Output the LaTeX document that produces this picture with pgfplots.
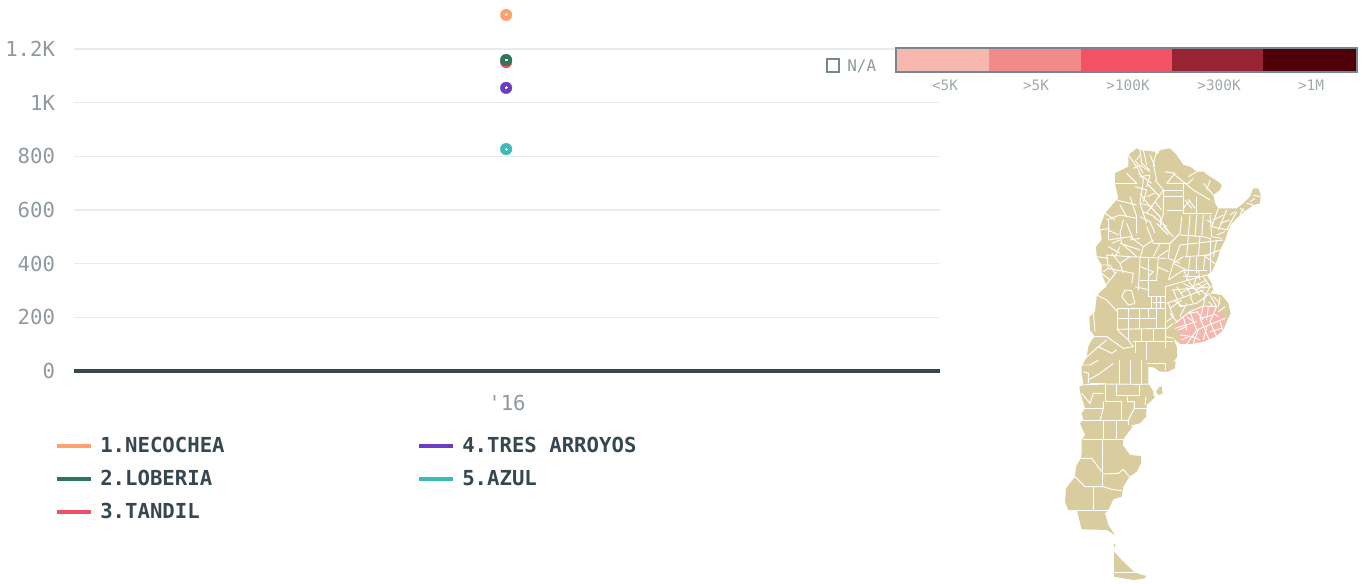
\documentclass[border=0pt]{standalone}
\usepackage{fontspec}
\usepackage{pgfplots}
\pgfplotsset{compat=1.18}
\setmainfont{DejaVu Sans Mono}
\newfontfamily\mono{DejaVu Sans Mono}
\definecolor{tickc}{HTML}{8F999E}
\definecolor{darkc}{HTML}{37474F}
\definecolor{gridc}{HTML}{E9EBEC}
\definecolor{nec}{HTML}{FFA06E}
\definecolor{lob}{HTML}{2E7559}
\definecolor{tan}{HTML}{F04E64}
\definecolor{tre}{HTML}{6C3CC4}
\definecolor{azu}{HTML}{3DBAB8}
\definecolor{land}{HTML}{D9CDA0}
\definecolor{pink}{HTML}{F5B7AE}
\definecolor{b1}{HTML}{F5B7AE}
\definecolor{b2}{HTML}{F28A8A}
\definecolor{b3}{HTML}{F25264}
\definecolor{b4}{HTML}{962433}
\definecolor{b5}{HTML}{4D0008}
\definecolor{barb}{HTML}{78868F}
\newcommand{\tickf}{\fontsize{15.5pt}{18pt}\selectfont}
\newcommand{\legf}{\fontsize{15.5pt}{18pt}\selectfont\bfseries}
\newcommand{\smallf}{\fontsize{10.8pt}{13pt}\selectfont}
\newcommand{\naf}{\fontsize{12pt}{14pt}\selectfont}
\newcommand{\WL}[1]{\addplot[white,line width=0.7pt,line join=round] coordinates {#1};}
\pgfplotsset{dot/.style={only marks,mark=*,mark size=4.4pt,color=#1,mark options={line width=0.2pt,draw=#1,fill=#1}}}
\begin{document}
\begin{tikzpicture}
\path[use as bounding box] (0,0) rectangle (1024.5pt,438pt);
% main chart
\begin{axis}[
  at={(55.5pt,159.75pt)},anchor=south west,
  scale only axis,width=649.5pt,height=278.25pt,
  xmin=-1,xmax=1,ymin=0,ymax=1382.6,
  clip=false,
  axis line style={draw=none},
  major tick length=0pt,
  ytick={0,200,400,600,800,1000,1200},
  yticklabels={0,200,400,600,800,1K,1.2K},
  xtick={0},xticklabels={{\mono '16}},
  ymajorgrids,
  grid style={gridc,line width=1.2pt},
  yticklabel style={font=\tickf,text=tickc,inner sep=0pt,anchor=east,xshift=-14pt},
  xticklabel style={font=\tickf,text=tickc,inner sep=0pt,anchor=north,yshift=-18pt},
]
\addplot[darkc,line width=2.3pt] coordinates {(-1,0)(1,0)};
\addplot[dot=nec] coordinates {(-0.002,1327)};
\addplot[dot=tan] coordinates {(-0.002,1151)};
\addplot[dot=lob] coordinates {(-0.002,1159)};
\addplot[dot=tre] coordinates {(-0.002,1055)};
\addplot[dot=azu] coordinates {(-0.002,827)};
\addplot[only marks,mark=*,mark size=0.7pt,color=white,mark options={line width=0pt,draw=white,fill=white,opacity=0.7}] coordinates {(-0.002,1327)(-0.002,1159)(-0.002,1055)(-0.002,827)};
\end{axis}
% map
\begin{axis}[
  at={(780pt,0pt)},anchor=south west,
  scale only axis,width=180pt,height=333pt,
  xmin=0,xmax=720,ymin=0,ymax=1332,y dir=reverse,
  hide axis,clip=false,
]
% mainland
\addplot[fill=land,draw=none] coordinates {
(265,45)(290,25)(300,30)(345,35)(352,45)(360,30)(390,25)(410,45)(430,75)(450,80)(470,95)(490,95)(510,110)(535,125)(545,135)(540,150)(520,165)(525,190)(535,205)(560,205)(590,205)(610,190)(630,170)(640,145)(655,145)(662,165)(660,190)(640,195)(620,210)(595,230)(575,250)(565,270)(555,300)(540,330)(535,350)(525,375)(515,395)(500,405)(515,430)(520,450)(510,460)(545,465)(565,490)(572,520)(560,545)(550,570)(525,590)(490,605)(450,612)(420,612)(400,595)(410,620)(412,650)(400,665)(407,665)(405,685)(385,695)(360,695)(340,682)(325,680)(325,730)(340,755)(340,765)(345,772)(320,795)(318,830)(300,850)(270,857)(278,860)(250,897)(248,915)(270,945)(303,948)(303,970)(290,995)(268,1010)(250,1040)(245,1070)(220,1078)(205,1110)(195,1120)(205,1155)(225,1185)(200,1170)(125,1168)(110,1110)(85,1110)(75,1085)(78,1045)(105,1010)(108,980)(122,955)(125,940)(125,900)(135,885)(120,850)(130,840)(125,820)(135,805)(120,755)(118,742)(130,730)(125,700)(125,680)(140,650)(145,620)(155,600)(165,590)(150,570)(148,530)(165,515)(170,470)(180,455)(200,440)(185,400)(185,375)(170,350)(168,320)(185,300)(180,260)(195,220)(225,185)(235,175)(225,130)(225,100)(265,80)
} -- cycle;
\addplot[fill=land,draw=none] coordinates {(358,740)(365,740)(368,760)(355,765)(348,755)} -- cycle;
\addplot[fill=land,draw=none] coordinates {(222,1210)(227,1218)(222,1222)(222,1235)(245,1260)(285,1298)(318,1308)(315,1315)(280,1320)(222,1310)} -- cycle;
% highlighted region
\addplot[fill=pink,draw=none] coordinates {(405,550)(430,530)(450,515)(490,498)(530,500)(535,515)(550,525)(555,540)(550,570)(525,590)(490,605)(450,612)(420,612)(420,590)(415,570)} -- cycle;
% department borders, south
\WL{(118,735)(195,732)(300,733)(335,732)}
\WL{(237,660)(237,732)} \WL{(272,660)(272,732)} \WL{(305,660)(305,732)}
\WL{(195,732)(195,785)(245,785)(245,840)}
\WL{(228,732)(228,765)(298,765)(298,732)}
\WL{(262,770)(262,785)(283,785)(283,805)(265,840)(265,855)}
\WL{(318,770)(315,795)} \WL{(283,805)(318,805)} \WL{(193,805)(130,805)}
\WL{(190,785)(190,805)(180,842)}
\WL{(120,842)(265,842)} \WL{(190,842)(190,897)} \WL{(228,842)(228,897)}
\WL{(128,897)(250,897)} \WL{(188,897)(188,1000)}
\WL{(122,955)(155,955)(185,995)}
\WL{(188,1002)(235,1000)(250,988)(268,1010)}
\WL{(105,1010)(135,1040)(190,1040)(215,1048)(245,1052)}
\WL{(188,1002)(188,1040)} \WL{(160,1040)(160,1110)} \WL{(110,1110)(205,1110)}
\WL{(125,760)(150,790)(160,760)(190,760)}
\WL{(150,730)(195,730)} \WL{(145,720)(180,700)(220,670)}
\WL{(130,695)(145,700)(145,730)} \WL{(125,675)(150,675)(175,660)}
\WL{(320,670)(375,670)(375,690)}
\WL{(222,1297)(285,1297)}
% pampa grid
\WL{(232,505)(375,505)} \WL{(232,535)(350,535)} \WL{(232,568)(375,565)} \WL{(280,605)(400,605)}
\WL{(232,505)(232,570)} \WL{(265,505)(265,600)} \WL{(297,505)(297,565)} \WL{(325,505)(325,538)} \WL{(350,470)(350,565)} \WL{(305,565)(305,605)} \WL{(340,565)(340,605)}
\WL{(325,470)(375,470)} \WL{(375,440)(375,625)} \WL{(335,470)(335,505)} \WL{(360,470)(360,505)} \WL{(340,488)(375,488)}
\WL{(245,470)(255,450)(275,452)(285,490)(265,495)(245,470)}
\WL{(170,465)(200,480)(232,515)} \WL{(232,570)(265,600)(280,620)(250,625)(200,590)(165,590)}
\WL{(285,440)(330,450)} \WL{(285,605)(285,640)} \WL{(320,605)(320,660)}
\WL{(160,515)(165,575)} \WL{(130,660)(175,620)(200,600)} \WL{(175,620)(215,640)(230,630)}
% north-east
\WL{(380,130)(445,130)(460,115)} \WL{(445,110)(470,95)} \WL{(405,105)(460,150)(510,180)}
\WL{(370,150)(430,150)} \WL{(370,170)(430,170)} \WL{(380,210)(430,210)} \WL{(370,150)(370,220)(360,260)}
\WL{(430,130)(430,220)} \WL{(430,220)(515,220)} \WL{(470,170)(470,220)} \WL{(490,130)(520,165)} \WL{(510,120)(500,150)}
\WL{(450,180)(430,205)} \WL{(435,180)(455,205)} \WL{(445,178)(465,205)}
\WL{(425,230)(420,280)} \WL{(450,225)(445,285)} \WL{(470,225)(465,290)} \WL{(490,225)(485,290)} \WL{(420,285)(490,290)}
\WL{(510,225)(515,290)} \WL{(535,205)(515,260)} \WL{(560,210)(535,270)} \WL{(590,215)(560,270)} \WL{(515,260)(565,270)}
\WL{(620,190)(640,195)} \WL{(600,205)(615,215)} \WL{(640,165)(660,170)}
\WL{(420,315)(550,300)} \WL{(445,285)(440,350)} \WL{(480,290)(475,350)} \WL{(510,295)(510,400)}
\WL{(435,350)(510,345)} \WL{(540,330)(500,345)} \WL{(470,350)(470,400)} \WL{(430,390)(500,390)}
\WL{(420,315)(400,370)(385,420)} \WL{(400,370)(430,350)}
\WL{(515,290)(545,295)} \WL{(530,300)(520,350)} \WL{(490,345)(530,375)} \WL{(490,290)(510,295)} \WL{(450,350)(445,395)} \WL{(495,350)(490,390)}
\WL{(475,390)(480,420)} \WL{(445,395)(440,420)} \WL{(430,410)(480,410)} \WL{(500,430)(470,450)}
\WL{(520,240)(550,225)} \WL{(540,250)(570,240)} \WL{(530,285)(555,275)} \WL{(500,240)(520,250)} \WL{(570,225)(585,215)} \WL{(610,205)(600,225)} \WL{(630,185)(645,175)}
% buenos aires
\WL{(375,440)(500,405)} \WL{(395,450)(520,440)} \WL{(420,460)(500,420)} \WL{(450,430)(480,465)}
\WL{(380,490)(490,450)} \WL{(400,450)(420,500)(470,490)} \WL{(440,490)(420,530)} \WL{(390,520)(410,545)}
\WL{(470,490)(510,460)} \WL{(510,465)(530,500)} \WL{(540,470)(535,500)} \WL{(555,500)(535,515)}
\WL{(495,470)(490,498)} \WL{(400,550)(375,570)} \WL{(385,490)(400,530)(380,545)} \WL{(375,590)(400,595)}
\WL{(405,550)(430,530)(450,515)(490,498)(530,500)}
\WL{(470,430)(495,445)} \WL{(490,410)(510,440)} \WL{(440,440)(455,470)}
\WL{(400,480)(430,500)} \WL{(390,505)(425,480)} \WL{(450,470)(460,490)} \WL{(480,450)(500,465)} \WL{(510,440)(490,480)} \WL{(520,470)(540,490)} \WL{(505,485)(520,500)} \WL{(410,440)(430,470)} \WL{(470,410)(460,440)} \WL{(430,430)(470,450)}
% west and centre
\WL{(225,130)(290,130)} \WL{(260,100)(290,130)} \WL{(265,45)(290,80)(310,120)(300,190)(320,250)}
\WL{(350,30)(340,75)(350,120)} \WL{(310,30)(320,75)} \WL{(285,60)(310,100)} \WL{(345,120)(370,150)(345,185)(320,220)}
\WL{(375,95)(405,100)(380,130)} \WL{(230,180)(290,195)} \WL{(270,170)(290,230)(290,280)}
\WL{(200,240)(240,225)(290,235)} \WL{(205,240)(205,300)} \WL{(205,300)(270,290)} \WL{(180,270)(210,265)}
\WL{(340,230)(380,260)} \WL{(350,250)(385,285)} \WL{(360,240)(390,280)} \WL{(320,260)(340,310)} \WL{(340,310)(390,310)(385,355)}
\WL{(240,280)(245,310)(290,350)} \WL{(200,345)(270,350)} \WL{(270,350)(380,355)} \WL{(200,345)(205,385)(190,395)}
\WL{(205,385)(280,400)(275,430)} \WL{(300,355)(295,450)} \WL{(325,355)(325,470)} \WL{(355,350)(350,420)}
\WL{(230,395)(210,420)(170,465)} \WL{(300,420)(350,420)} \WL{(205,320)(240,340)} \WL{(270,290)(310,320)(300,355)}
\WL{(360,310)(340,350)} \WL{(320,130)(360,170)} \WL{(300,160)(330,200)} \WL{(295,100)(335,130)}
\WL{(290,60)(300,45)} \WL{(300,30)(305,70)(330,90)} \WL{(330,45)(345,80)} \WL{(280,85)(300,75)(330,95)} \WL{(300,110)(330,105)(320,140)} \WL{(285,140)(320,150)(310,185)} \WL{(320,170)(345,160)} \WL{(300,190)(340,200)} \WL{(310,215)(345,230)} \WL{(300,230)(330,245)(345,280)} \WL{(345,185)(365,210)} \WL{(330,200)(360,230)(365,255)} \WL{(370,260)(400,290)}
\WL{(310,320)(340,300)} \WL{(270,300)(300,295)} \WL{(270,320)(300,330)} \WL{(240,310)(270,320)} \WL{(215,310)(240,300)} \WL{(225,350)(240,320)} \WL{(215,340)(240,370)(270,350)} \WL{(240,370)(250,400)} \WL{(300,380)(340,395)(325,410)} \WL{(350,380)(385,395)} \WL{(385,355)(420,370)} \WL{(355,350)(385,330)} \WL{(420,280)(390,310)} \WL{(400,370)(440,390)} \WL{(385,420)(430,390)(450,430)}
\WL{(195,220)(225,240)} \WL{(240,195)(260,230)} \WL{(205,270)(235,285)} \WL{(250,240)(240,280)} \WL{(260,250)(280,300)} \WL{(185,400)(210,420)} \WL{(170,350)(205,355)} \WL{(185,375)(210,375)(225,400)}
% highlighted departments
\WL{(450,515)(470,570)(440,612)} \WL{(490,498)(480,535)(510,605)} \WL{(530,500)(510,545)(530,590)}
\WL{(405,565)(470,545)} \WL{(470,570)(555,535)} \WL{(430,530)(440,570)} \WL{(420,585)(460,590)}
\WL{(415,570)(440,560)} \WL{(440,530)(460,545)} \WL{(470,515)(490,540)} \WL{(505,500)(500,540)} \WL{(480,535)(520,525)} \WL{(520,520)(535,530)} \WL{(500,560)(490,600)} \WL{(455,590)(480,600)} \WL{(540,545)(550,575)} \WL{(425,600)(445,590)} \WL{(510,575)(545,565)} \WL{(460,610)(475,570)} \WL{(445,520)(475,515)}
\end{axis}
% legends, pixel coordinates
\begin{axis}[
  at={(0pt,0pt)},anchor=south west,
  scale only axis,width=1024.5pt,height=438pt,
  xmin=0,xmax=1366,ymin=0,ymax=584,y dir=reverse,
  hide axis,clip=false,
]
\addplot[nec,line width=3.5pt] coordinates {(57,446)(91,446)};
\addplot[lob,line width=3.5pt] coordinates {(57,479)(91,479)};
\addplot[tan,line width=3.5pt] coordinates {(57,512)(91,512)};
\addplot[tre,line width=3.5pt] coordinates {(419,446)(453,446)};
\addplot[azu,line width=3.5pt] coordinates {(419,479)(453,479)};
\node[anchor=west,inner sep=0pt,text=darkc,font=\legf] at (axis cs:100,445) {1.NECOCHEA};
\node[anchor=west,inner sep=0pt,text=darkc,font=\legf] at (axis cs:100,478) {2.LOBERIA};
\node[anchor=west,inner sep=0pt,text=darkc,font=\legf] at (axis cs:100,511) {3.TANDIL};
\node[anchor=west,inner sep=0pt,text=darkc,font=\legf] at (axis cs:462,445) {4.TRES ARROYOS};
\node[anchor=west,inner sep=0pt,text=darkc,font=\legf] at (axis cs:462,478) {5.AZUL};
% colour scale
\addplot[fill=b1,draw=none] coordinates {(896,48)(989,48)(989,72)(896,72)} -- cycle;
\addplot[fill=b2,draw=none] coordinates {(989,48)(1081,48)(1081,72)(989,72)} -- cycle;
\addplot[fill=b3,draw=none] coordinates {(1081,48)(1172,48)(1172,72)(1081,72)} -- cycle;
\addplot[fill=b4,draw=none] coordinates {(1172,48)(1263,48)(1263,72)(1172,72)} -- cycle;
\addplot[fill=b5,draw=none] coordinates {(1263,48)(1357,48)(1357,72)(1263,72)} -- cycle;
\addplot[draw=barb,line width=0.8pt] coordinates {(896,48)(1357,48)(1357,72)(896,72)} -- cycle;
\addplot[draw=barb,line width=1.1pt] coordinates {(827,59)(839,59)(839,72)(827,72)} -- cycle;
\node[anchor=west,inner sep=0pt,text=tickc,font=\naf] at (axis cs:847,66) {N/A};
\node[inner sep=0pt,text=tickc!85,font=\smallf] at (axis cs:945,85) {<5K};
\node[inner sep=0pt,text=tickc!85,font=\smallf] at (axis cs:1036,85) {>5K};
\node[inner sep=0pt,text=tickc!85,font=\smallf] at (axis cs:1128,85) {>100K};
\node[inner sep=0pt,text=tickc!85,font=\smallf] at (axis cs:1219,85) {>300K};
\node[inner sep=0pt,text=tickc!85,font=\smallf] at (axis cs:1311,85) {>1M};
\end{axis}
\end{tikzpicture}
\end{document}
